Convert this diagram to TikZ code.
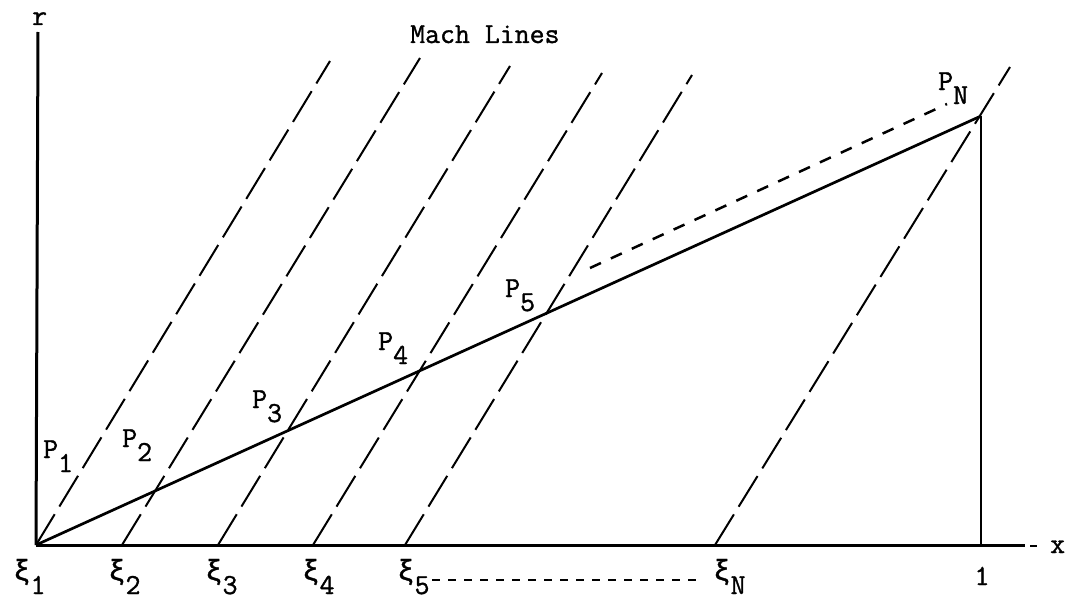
\documentclass[tikz,border=0pt]{standalone}
\usepackage{fontspec}
\newfontfamily\tw[FakeBold=1.2]{Latin Modern Mono}
\newfontfamily\twg[FakeBold=1.2]{Liberation Mono}
\newcommand\lowsub[1]{\raisebox{-14pt}{#1}}
\begin{document}
\begin{tikzpicture}[x=1pt,y=-1pt,
  lbl/.style={inner sep=0pt,anchor=base west,font=\tw\fontsize{29pt}{32pt}\selectfont},
  axis/.style={line width=3pt},
  body/.style={line width=2.7pt},
  mach/.style={line width=2pt,dash pattern=on 36pt off 9pt},
  shock/.style={line width=2.5pt,dash pattern=on 12pt off 11pt},
  gap/.style={line width=1.8pt,dash pattern=on 8pt off 8pt}]
\useasboundingbox (0,0) rectangle (1067,602);
% coordinates
\coordinate (O) at (36,545);
\coordinate (rtop) at (38,32);
\coordinate (xend) at (1025,545);
\coordinate (xd1) at (1030,546);
\coordinate (xd2) at (1037,546);
\coordinate (PN) at (981,116);
\coordinate (one) at (981,545);
\coordinate (x2) at (122,545);
\coordinate (x3) at (218,545);
\coordinate (x4) at (313,545);
\coordinate (x5) at (405,545);
\coordinate (xN) at (715,545);
\coordinate (t1) at (330,61);
\coordinate (t2) at (420,58);
\coordinate (t3) at (510,66);
\coordinate (t4) at (602,73);
\coordinate (t5) at (692,75);
\coordinate (tN) at (1010,67);
\coordinate (s1) at (590,268);
\coordinate (s2) at (947,104);
\coordinate (g1) at (432,580);
\coordinate (g2) at (703,580);
% axes
\draw[axis] (O) -- (rtop);
\draw[axis] (O) -- (xend);
\draw[line width=1.2pt] (xd1) -- (xd2);
\draw[line width=2pt] (one) -- (PN);
% body line
\draw[body] (O) -- (PN);
% mach lines
\draw[mach] (O) -- (t1);
\draw[mach] (x2) -- (t2);
\draw[mach] (x3) -- (t3);
\draw[mach] (x4) -- (t4);
\draw[mach] (x5) -- (t5);
\draw[mach] (xN) -- (tN);
% dashed lines
\draw[shock] (s1) -- (s2);
\draw[gap] (g1) -- (g2);
% labels
\node[lbl] (lr) at (32,25) {r};
\node[lbl] (lx) at (1050,553) {x};
\node[lbl] (lm) at (410,43) {Mach Lines};
\node[lbl] (lP1) at (43,458) {P\lowsub{1}};
\node[lbl] (lP2) at (122,447) {P\lowsub{2}};
\node[lbl] (lP3) at (252,408) {P\lowsub{3}};
\node[lbl] (lP4) at (378,350) {P\lowsub{4}};
\node[lbl] (lP5) at (505,297) {P\lowsub{5}};
\node[lbl] (lPN) at (938,90) {P\lowsub{N}};
\node[lbl] (lx1) at (13,580) {{\twg ξ}\lowsub{1}};
\node[lbl] (lx2) at (108,580) {{\twg ξ}\lowsub{2}};
\node[lbl] (lx3) at (205,580) {{\twg ξ}\lowsub{3}};
\node[lbl] (lx4) at (302,580) {{\twg ξ}\lowsub{4}};
\node[lbl] (lx5) at (397,580) {{\twg ξ}\lowsub{5}};
\node[lbl] (lxN) at (713,580) {{\twg ξ}\lowsub{N}};
\node[lbl,anchor=base] (l1) at (982,585) {1};
\end{tikzpicture}
\end{document}
